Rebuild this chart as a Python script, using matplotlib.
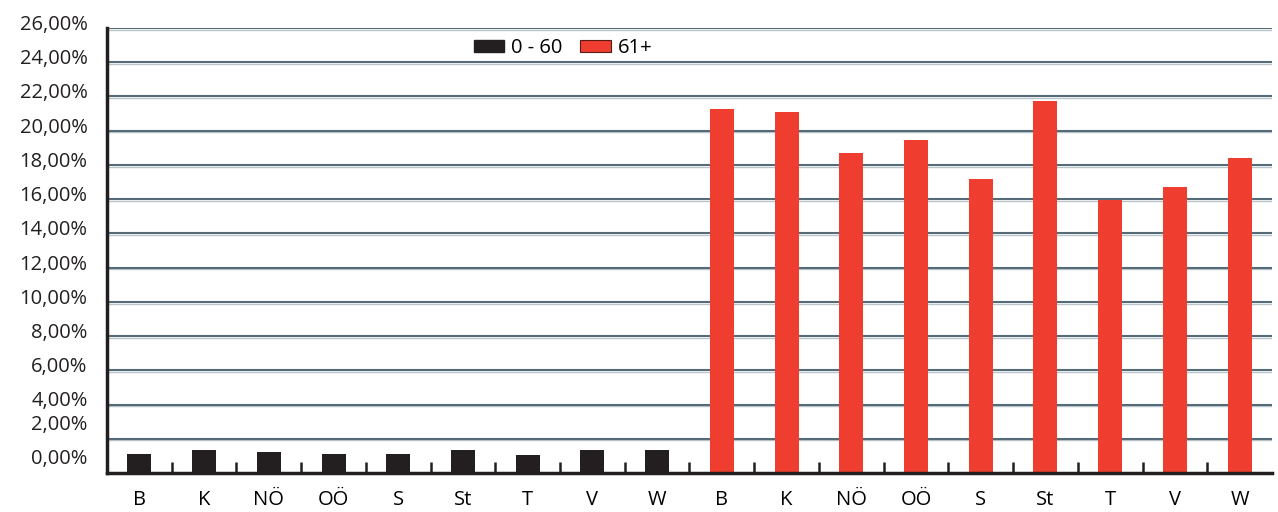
import numpy as np
import matplotlib.pyplot as plt
import matplotlib.transforms as mtransforms
from matplotlib.patches import Patch

plt.rcParams['font.family'] = ['Open Sans', 'DejaVu Sans']

# Bundesländer, two age groups
regions = ['B', 'K', 'NÖ', 'OÖ', 'S', 'St', 'T', 'V', 'W']
young = [1.13, 1.33, 1.25, 1.13, 1.13, 1.37, 1.08, 1.37, 1.37]
old = [21.26, 21.08, 18.69, 19.45, 17.17, 21.73, 15.94, 16.70, 18.40]
y_ticks = list(range(0, 27, 2))
y_tick_labels = ['%d,00%%' % v for v in y_ticks]

black = '#231f20'
red = '#ef3e2f'
grid_col = '#566b78'

fig = plt.figure(figsize=(12.78, 5.12), dpi=100)
ax = fig.add_axes([107 / 1278, 1 - 473 / 512, (1272 - 107) / 1278, (473 - 28) / 512])

labels = regions + regions
n = len(regions)
x_young = np.arange(n)
x_old = np.arange(n, 2 * n)
ax.bar(x_young, young, width=0.37, color=black, zorder=3)
ax.bar(x_old, old, width=0.37, color=red, zorder=3)

ax.set_xlim(-0.5, 2 * n - 0.5)
ax.set_ylim(0, 26)

shadow = ax.get_yaxis_transform() + mtransforms.ScaledTranslation(0, -1.2 / 72, fig.dpi_scale_trans)
for v in y_ticks[1:]:
    ax.axhline(v, color=grid_col, lw=1.5, zorder=1)
    ax.plot([0, 1], [v, v], color='#b9c5cb', lw=1.0, zorder=0, transform=shadow)

ax.set_xticks(np.arange(2 * n))
ax.set_xticklabels(labels, fontsize=14.5)
ax.set_xticks(np.arange(0.5, 2 * n - 1, 1.0), minor=True)
ax.tick_params(axis='x', which='major', length=0, pad=12)
ax.tick_params(axis='x', which='minor', direction='in', length=8, width=1.8, color=black)

ax.set_yticks(y_ticks)
ax.set_yticklabels(y_tick_labels, fontsize=14.5, color='#231f20')
ax.tick_params(axis='y', length=0, pad=14)
for i, lab in enumerate(ax.get_yticklabels()):
    dy = 12 / 72 if i < 2 else 4 / 72
    lab.set_transform(lab.get_transform() + mtransforms.ScaledTranslation(0, dy, fig.dpi_scale_trans))

for side in ['top', 'right']:
    ax.spines[side].set_visible(False)
for side in ['left', 'bottom']:
    ax.spines[side].set_color(black)
    ax.spines[side].set_linewidth(2.5)
    ax.spines[side].set_zorder(4)

handles = [Patch(facecolor=black, edgecolor=black, label='0 - 60'),
           Patch(facecolor=red, edgecolor='#5a1a14', linewidth=0.8, label='61+')]
fig.legend(handles=handles, loc='center', bbox_to_anchor=(563 / 1278, 1 - 48 / 512),
           ncol=2, frameon=False, fontsize=14.5, handlelength=1.5, handleheight=0.55,
           handletextpad=0.35, columnspacing=0.9)

fig.savefig('out.png', dpi=100)
